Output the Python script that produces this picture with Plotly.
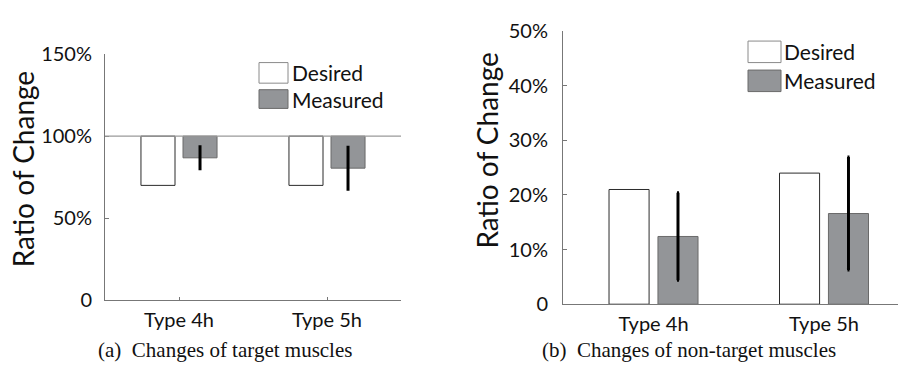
import plotly.graph_objects as go

# ---------------- data ----------------
categories = ["Type 4h", "Type 5h"]
cat_pos = [1, 2]

# (a) target muscles (bars hang down from the 100% line)
target_baseline = 100
target_desired = [70.0, 70.0]
target_measured = [86.8, 80.5]
target_err = [7.6, 13.7]
target_ticks = [0, 50, 100, 150]
target_ticktext = ["0", "50%", "100%", "150%"]

# (b) non-target muscles
nontarget_desired = [21.0, 24.0]
nontarget_measured = [12.4, 16.6]
nontarget_err = [8.0, 10.35]
nontarget_ticks = [0, 10, 20, 30, 40, 50]
nontarget_ticktext = ["0", "10%", "20%", "30%", "40%", "50%"]

W, H = 898, 372
FONT = "Lato"
TXT = "#111111"
DES_FILL, DES_LINE = "#ffffff", "#2b2b2b"
MEA_FILL, MEA_LINE = "#939598", "#6a6a6a"
AX_COL = "#777777"


def px(x):
    return x / W


def py(y):
    return (H - y) / H


fig = go.Figure()

# ---- panel (a)
wa = 0.23
fig.add_trace(go.Bar(
    x=cat_pos, y=[v - target_baseline for v in target_desired], base=target_baseline,
    offset=-0.257, width=wa, marker=dict(color=DES_FILL, line=dict(color=DES_LINE, width=1)),
    xaxis="x", yaxis="y", showlegend=False, name="Desired"))
fig.add_trace(go.Bar(
    x=cat_pos, y=[v - target_baseline for v in target_measured], base=target_baseline,
    offset=0.027, width=wa, marker=dict(color=MEA_FILL, line=dict(color=MEA_LINE, width=1)),
    xaxis="x", yaxis="y", showlegend=False, name="Measured"))
fig.add_trace(go.Scatter(
    x=[c + 0.027 + wa / 2 for c in cat_pos], y=target_measured, mode="markers",
    marker=dict(size=1, color="rgba(0,0,0,0)"),
    error_y=dict(type="data", array=target_err, color="#000000", thickness=3, width=0),
    xaxis="x", yaxis="y", showlegend=False, hoverinfo="skip"))

# ---- panel (b)
wb = 0.235
fig.add_trace(go.Bar(
    x=cat_pos, y=nontarget_desired, offset=-0.261, width=wb,
    marker=dict(color=DES_FILL, line=dict(color=DES_LINE, width=1)),
    xaxis="x2", yaxis="y2", showlegend=False, name="Desired"))
fig.add_trace(go.Bar(
    x=cat_pos, y=nontarget_measured, offset=0.026, width=wb,
    marker=dict(color=MEA_FILL, line=dict(color=MEA_LINE, width=1)),
    xaxis="x2", yaxis="y2", showlegend=False, name="Measured"))
fig.add_trace(go.Scatter(
    x=[c + 0.026 + wb / 2 for c in cat_pos], y=nontarget_measured, mode="markers",
    marker=dict(size=1, color="rgba(0,0,0,0)"),
    error_y=dict(type="data", array=nontarget_err, color="#000000", thickness=3, width=1),
    xaxis="x2", yaxis="y2", showlegend=False, hoverinfo="skip"))

tickfont = dict(family=FONT, size=20, color=TXT)

fig.update_layout(
    width=W, height=H, margin=dict(l=0, r=0, t=0, b=0),
    paper_bgcolor="white", plot_bgcolor="white",
    barmode="overlay",
    xaxis=dict(domain=[px(105), px(401)], range=[0.5, 2.5], tickvals=cat_pos, ticktext=categories,
               showline=True, linecolor=AX_COL, linewidth=1, ticks="inside", ticklen=3,
               tickcolor=AX_COL, showgrid=False, zeroline=False, tickfont=tickfont,
               ticklabelstandoff=2, fixedrange=True),
    yaxis=dict(domain=[py(307), py(44)], range=[0, 150], tickvals=target_ticks, ticktext=target_ticktext,
               showline=True, linecolor=AX_COL, linewidth=1, ticks="inside", ticklen=4,
               tickcolor=AX_COL, showgrid=False, zeroline=False, tickfont=tickfont,
               ticklabelstandoff=8, anchor="x", fixedrange=True),
    xaxis2=dict(domain=[px(563), 1.0], range=[0.469, 2.434], tickvals=cat_pos, ticktext=categories,
                showline=True, linecolor=AX_COL, linewidth=1, ticks="", showgrid=False,
                zeroline=False, tickfont=tickfont, anchor="y2", ticklabelstandoff=2, fixedrange=True),
    yaxis2=dict(domain=[py(311.3), py(19.3)], range=[0, 50], tickvals=nontarget_ticks,
                ticktext=nontarget_ticktext, showline=True, linecolor=AX_COL, linewidth=1,
                ticks="inside", ticklen=4, tickcolor=AX_COL, showgrid=False, zeroline=False,
                tickfont=tickfont, ticklabelstandoff=10, anchor="x2", fixedrange=True),
)

# 100% reference line on panel (a)
fig.add_shape(type="line", xref="x domain", yref="y", x0=0, x1=1,
              y0=target_baseline, y1=target_baseline, line=dict(color="#9a9a9a", width=1.2),
              layer="above")


# legends (drawn as boxes + text)
def legend(x0, x1, boxes, tx):
    for (y0, y1, fill, line), label in zip(boxes, ["Desired", "Measured"]):
        fig.add_shape(type="rect", xref="paper", yref="paper", x0=px(x0), x1=px(x1),
                      y0=py(y1), y1=py(y0), fillcolor=fill, line=dict(color=line, width=1))
        fig.add_annotation(x=px(tx), y=py((y0 + y1) / 2), xref="paper", yref="paper",
                           text=label, showarrow=False, xanchor="left", yanchor="middle",
                           font=dict(family=FONT, size=21, color=TXT))


legend(259, 288, [(53, 75, DES_FILL, "#8a8a8a"), (82, 102, MEA_FILL, "#6a6a6a")], 290)
legend(748, 781, [(30, 53, DES_FILL, "#8a8a8a"), (61, 84, MEA_FILL, "#6a6a6a")], 782)

# y titles
for x, y in [(23, 167), (487, 147)]:
    fig.add_annotation(x=px(x), y=py(y), xref="paper", yref="paper", text="Ratio of Change",
                       showarrow=False, textangle=-90, xanchor="center", yanchor="middle",
                       font=dict(family=FONT, size=28, color=TXT))

# captions
for x, txt in [(225, "(a)  Changes of target muscles"), (689, "(b)  Changes of non-target muscles")]:
    fig.add_annotation(x=px(x), y=py(360), xref="paper", yref="paper", text=txt,
                       showarrow=False, xanchor="center", yanchor="middle",
                       font=dict(family="Liberation Serif", size=21, color=TXT))

fig.write_html("out.html")
